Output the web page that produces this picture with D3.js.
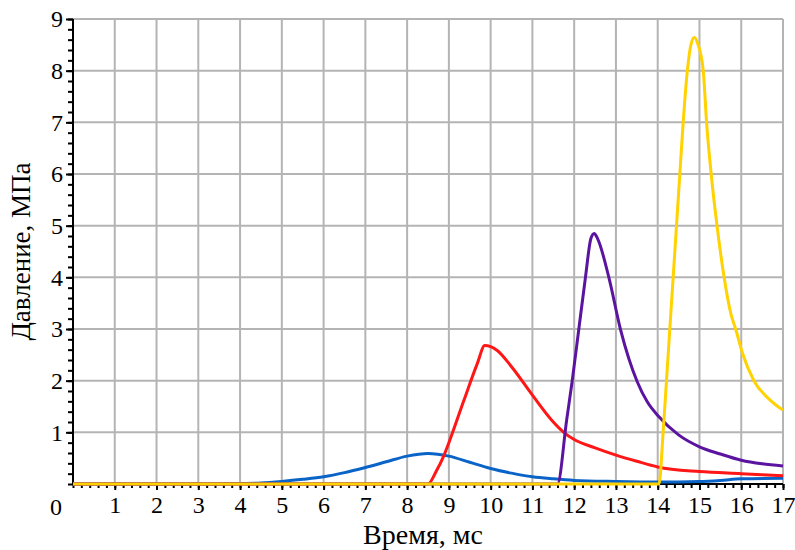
<!DOCTYPE html>
<html>
<head>
<meta charset="utf-8">
<script src="https://cdn.jsdelivr.net/npm/d3@7"></script>
<style>
  body { margin: 0; background: #fff; }
</style>
</head>
<body>
<div id="chart"></div>
<script>
const width = 795;
const height = 550;
const FONT = "'Liberation Serif'";

// time, ms / pressure, MPa
const blue = [[0,0],[1,0],[2,0],[3,0],[4,0.01],[4.5,0.02],[5,0.05],[5.5,0.09],[6,0.14],[6.5,0.22],[7,0.32],[7.5,0.43],[8,0.54],[8.5,0.59],[9,0.54],[9.5,0.42],[10,0.30],[10.5,0.21],[11,0.14],[11.5,0.10],[12,0.07],[13,0.05],[14,0.04],[15,0.05],[15.5,0.07],[16,0.10],[17,0.11]];
const red = [[0,0],[8.5,0],[8.7,0.25],[8.88,0.55],[9,0.8],[9.36,1.62],[9.68,2.33],[9.86,2.68],[10.15,2.59],[10.5,2.27],[11,1.72],[11.5,1.2],[11.75,1.0],[12,0.86],[12.5,0.7],[13,0.56],[13.5,0.44],[14,0.33],[15,0.24],[16,0.2],[17,0.16]];
const purple = [[0,0],[11.6,0],[11.82,1.24],[11.95,1.98],[12.11,2.99],[12.27,4.0],[12.4,4.75],[12.48,4.85],[12.56,4.75],[12.83,4.0],[13.11,2.99],[13.51,1.98],[13.75,1.59],[14.03,1.30],[14.5,0.95],[15,0.72],[15.5,0.58],[16,0.46],[16.5,0.39],[17,0.35]];
const yellow = [[0,0],[14.03,0],[14.13,1.0],[14.21,2.0],[14.29,3.0],[14.37,4.0],[14.45,5.0],[14.53,6.0],[14.61,7.0],[14.71,8.0],[14.8,8.52],[14.88,8.64],[14.96,8.52],[15.09,8.0],[15.17,7.0],[15.28,6.0],[15.42,5.0],[15.59,4.0],[15.75,3.3],[15.87,2.99],[16.03,2.53],[16.31,1.99],[16.7,1.62],[17,1.43]];

const series = [
  {data: blue, color: '#0a64c8'},
  {data: red, color: '#ff1616'},
  {data: purple, color: '#5a14a0'},
  {data: yellow, color: '#ffd200'}
];

const xTicks = d3.range(1, 18);
const yTicks = d3.range(1, 10);

const margin = {left: 73, top: 19, right: 12, bottom: 66};
const w = width - margin.left - margin.right;
const h = height - margin.top - margin.bottom;

const x = d3.scaleLinear().domain([0, 17]).range([0, w]);
const y = d3.scaleLinear().domain([0, 9]).range([h, 0]);

const svg = d3.select('#chart')
  .append('svg')
    .attr('width', width)
    .attr('height', height)
    .style('font-family', FONT);

const g = svg.append('g')
  .attr('transform', `translate(${margin.left},${margin.top})`);

// grid
g.append('g')
  .selectAll('line')
  .data(xTicks)
  .join('line')
    .attr('x1', d => x(d)).attr('x2', d => x(d))
    .attr('y1', 0).attr('y2', h)
    .attr('stroke', '#b4b4b4')
    .attr('stroke-width', 2);

g.append('g')
  .selectAll('line')
  .data(yTicks)
  .join('line')
    .attr('x1', 0).attr('x2', w)
    .attr('y1', d => y(d)).attr('y2', d => y(d))
    .attr('stroke', '#b4b4b4')
    .attr('stroke-width', 2);

// minor + major ticks
const xAxisMinor = d3.axisBottom(x)
  .tickValues(d3.range(0, 86).map(i => i / 5))
  .tickSize(4)
  .tickFormat('');
const xAxis = d3.axisBottom(x)
  .tickValues(xTicks)
  .tickSize(6)
  .tickPadding(6);
const yAxisMinor = d3.axisLeft(y)
  .tickValues(d3.range(0, 46).map(i => i / 5))
  .tickSize(5)
  .tickFormat('');
const yAxis = d3.axisLeft(y)
  .tickValues(yTicks)
  .tickSize(7)
  .tickPadding(3);

const styleAxis = sel => {
  sel.attr('font-family', null).attr('font-size', null);
  sel.select('.domain').remove();
  sel.selectAll('line').attr('stroke', '#000').attr('stroke-width', 2);
  sel.selectAll('text')
    .attr('fill', '#000')
    .style('font-family', FONT)
    .style('font-size', '24px');
};

g.append('g').attr('transform', `translate(0,${h})`).call(xAxisMinor).call(styleAxis);
g.append('g').attr('transform', `translate(0,${h})`).call(xAxis).call(styleAxis);
g.append('g').call(yAxisMinor).call(styleAxis);
g.append('g').call(yAxis).call(styleAxis);

// axis lines
g.append('line').attr('x1', 0).attr('x2', 0).attr('y1', 0).attr('y2', h)
  .attr('stroke', '#000').attr('stroke-width', 2);
g.append('line').attr('x1', 0).attr('x2', w).attr('y1', h).attr('y2', h)
  .attr('stroke', '#000').attr('stroke-width', 2);

// origin label
g.append('text')
  .attr('x', -17).attr('y', h + 31)
  .attr('text-anchor', 'middle')
  .style('font-family', FONT)
  .style('font-size', '24px')
  .text('0');

// curves
const line = d3.line()
  .x(d => x(d[0]))
  .y(d => y(d[1]))
  .curve(d3.curveMonotoneX);

g.selectAll('.chart-line')
  .data(series)
  .join('path')
    .attr('class', 'chart-line')
    .attr('d', d => line(d.data))
    .attr('fill', 'none')
    .attr('stroke', d => d.color)
    .attr('stroke-width', 3)
    .attr('stroke-linejoin', 'round');

// titles
svg.append('text')
  .attr('x', margin.left + w / 2 - 5)
  .attr('y', 544)
  .attr('text-anchor', 'middle')
  .style('font-family', FONT)
  .style('font-size', '28px')
  .text('Время, мс');

svg.append('text')
  .attr('transform', `translate(30,${margin.top + h / 2}) rotate(-90)`)
  .attr('text-anchor', 'middle')
  .style('font-family', FONT)
  .style('font-size', '27px')
  .text('Давление, МПа');
</script>
</body>
</html>
